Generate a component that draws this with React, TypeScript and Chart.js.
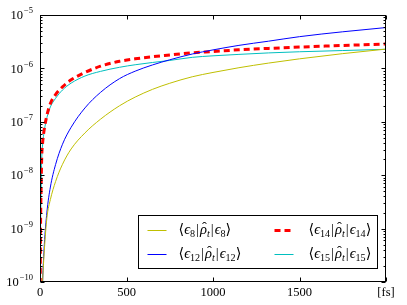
import React, { useEffect, useRef } from "react";
import { Chart, registerables } from "chart.js";

Chart.register(...registerables);

// time axis [fs]
const times = [1, 3, 6, 10, 15, 25, 40, 60, 90, 130, 180, 260, 350, 460, 550, 650, 750, 880, 1000, 1150, 1320, 1500, 1750, 2000];

// populations
const eps8 = [1e-13, 1.5e-12, 1e-11, 3.5e-11, 1e-10, 3.9e-10, 1.6e-9, 3.5e-9, 7.6e-9, 1.6e-8, 3.1e-8, 6.2e-8, 1.12e-7, 2.0e-7, 2.9e-7, 4.05e-7, 5.27e-7, 6.97e-7, 8.4e-7, 1.03e-6, 1.256e-6, 1.51e-6, 1.89e-6, 2.3e-6];
const eps12 = [1e-14, 5e-13, 4e-12, 2.5e-11, 1e-10, 5e-10, 2.04e-9, 6.0e-9, 1.58e-8, 3.8e-8, 7.9e-8, 1.82e-7, 3.56e-7, 6.44e-7, 8.87e-7, 1.16e-6, 1.45e-6, 1.86e-6, 2.22e-6, 2.7e-6, 3.23e-6, 3.93e-6, 4.85e-6, 5.82e-6];
const eps14 = [6e-11, 1e-9, 5e-9, 2.2e-8, 4e-8, 7.4e-8, 1.32e-7, 2.2e-7, 3.24e-7, 4.5e-7, 6.1e-7, 8.4e-7, 1.1e-6, 1.36e-6, 1.51e-6, 1.65e-6, 1.78e-6, 1.96e-6, 2.07e-6, 2.23e-6, 2.37e-6, 2.51e-6, 2.69e-6, 2.86e-6];
const eps15 = [5e-11, 8e-10, 4.5e-9, 2e-8, 3.7e-8, 6.9e-8, 1.2e-7, 1.9e-7, 2.75e-7, 3.94e-7, 5.3e-7, 7.2e-7, 8.8e-7, 1.05e-6, 1.17e-6, 1.29e-6, 1.41e-6, 1.61e-6, 1.72e-6, 1.83e-6, 1.95e-6, 2.05e-6, 2.16e-6, 2.28e-6];

const seriesLabels = ["⟨ϵ_{8}|ρ̂_{t}|ϵ_{8}⟩", "⟨ϵ_{12}|ρ̂_{t}|ϵ_{12}⟩", "⟨ϵ_{14}|ρ̂_{t}|ϵ_{14}⟩", "⟨ϵ_{15}|ρ̂_{t}|ϵ_{15}⟩"];
const yTickExponents = [-10, -9, -8, -7, -6, -5];
const xTicks = [0, 500, 1000, 1500, 2000];
const xUnitLabel = "[fs]";

const SERIF = "'Liberation Serif', 'DejaVu Serif', serif";

function drawMath(ctx: CanvasRenderingContext2D, text: string, x: number, y: number, size: number) {
  // tiny mathtext: _{...} subscripts; letters italic; combining hat drawn above
  const parts: { t: string; sub: boolean; hat: boolean }[] = [];
  let i = 0;
  while (i < text.length) {
    if (text[i] === "_" && text[i + 1] === "{") {
      const end = text.indexOf("}", i);
      parts.push({ t: text.slice(i + 2, end), sub: true, hat: false });
      i = end + 1;
    } else {
      const ch = text[i];
      let hat = false;
      if (i + 1 < text.length && text[i + 1] === "\u0302") {
        hat = true;
        i++;
      }
      parts.push({ t: ch, sub: false, hat });
      i++;
    }
  }
  let cx = x;
  ctx.textBaseline = "middle";
  ctx.textAlign = "left";
  for (const p of parts) {
    const isLetter = /[a-zA-Zϵρ]/.test(p.t);
    const isBar = p.t === "|";
    const fs = p.sub ? size * 0.7 : size;
    ctx.font = `${isLetter ? "italic " : ""}${fs}px ${SERIF}`;
    const dy = p.sub ? size * 0.3 : 0;
    if (isBar) cx += 1;
    ctx.fillText(p.t, cx, y + dy);
    const w = ctx.measureText(p.t).width;
    if (p.hat) {
      ctx.save();
      ctx.font = `${fs}px ${SERIF}`;
      ctx.textAlign = "center";
      ctx.fillText("ˆ", cx + w / 2 + 1, y - size * 0.12);
      ctx.restore();
      ctx.textAlign = "left";
    }
    cx += w + (isBar ? 1 : 0);
  }
  return cx - x;
}

const framePlugin = {
  id: "frameTicks",
  afterDraw(chart: any) {
    const ctx: CanvasRenderingContext2D = chart.ctx;
    const a = chart.chartArea;
    const xs = chart.scales.x;
    const ys = chart.scales.y;
    ctx.save();
    ctx.strokeStyle = "#000";
    ctx.lineWidth = 1;
    const L = Math.round(a.left) + 0.5;
    const R = Math.round(a.right) - 0.5;
    const T = Math.round(a.top) + 0.5;
    const B = Math.round(a.bottom) - 0.5;
    ctx.beginPath();
    for (const v of xTicks) {
      const px = Math.round(xs.getPixelForValue(v)) + 0.5;
      ctx.moveTo(px, B);
      ctx.lineTo(px, B - 4);
      ctx.moveTo(px, T);
      ctx.lineTo(px, T + 4);
    }
    for (let e = -10; e <= -5; e++) {
      for (let m = 1; m <= 9; m++) {
        const v = m * Math.pow(10, e);
        if (v > 1.0001e-5) break;
        const py = Math.round(ys.getPixelForValue(v)) + 0.5;
        const len = m === 1 ? 4 : 2;
        ctx.moveTo(L, py);
        ctx.lineTo(L + len, py);
        ctx.moveTo(R, py);
        ctx.lineTo(R - len, py);
      }
    }
    ctx.stroke();
    ctx.strokeRect(L, T, R - L, B - T);

    // y tick labels 10^e
    ctx.fillStyle = "#000";
    for (const e of yTickExponents) {
      const py = ys.getPixelForValue(Math.pow(10, e));
      const expStr = "\u2212" + String(-e);
      ctx.font = `8.5px ${SERIF}`;
      const we = ctx.measureText(expStr).width;
      ctx.font = `12.5px ${SERIF}`;
      const wb = ctx.measureText("10").width;
      const right = a.left - 7;
      ctx.textBaseline = "middle";
      ctx.textAlign = "left";
      ctx.fillText("10", right - we - wb - 1, py + 1);
      ctx.font = `8.5px ${SERIF}`;
      ctx.fillText(expStr, right - we, py - 4);
    }

    // legend box
    const bw = 239, bh = 53;
    const bx = Math.round(a.right - 9 - bw) + 0.5;
    const by = Math.round(a.bottom - 14 - bh) + 0.5;
    ctx.fillStyle = "#fff";
    ctx.fillRect(bx, by, bw, bh);
    ctx.strokeStyle = "#000";
    ctx.lineWidth = 1;
    ctx.strokeRect(bx, by, bw, bh);
    const ds = chart.data.datasets;
    const lineX = [9, 136];
    const textX = [40, 170];
    for (let k = 0; k < ds.length; k++) {
      const col = Math.floor(k / 2);
      const row = k % 2;
      const ly = by + 14.5 + row * 24;
      const lx = bx + lineX[col];
      ctx.save();
      ctx.strokeStyle = ds[k].borderColor;
      ctx.lineWidth = ds[k].borderWidth;
      ctx.setLineDash(ds[k].borderDash || []);
      ctx.beginPath();
      ctx.moveTo(lx, Math.round(ly) + 0.5);
      ctx.lineTo(lx + 19, Math.round(ly) + 0.5);
      ctx.stroke();
      ctx.restore();
      ctx.fillStyle = "#000";
      drawMath(ctx, ds[k].label, bx + textX[col], ly, 14.5);
    }
    ctx.restore();
  },
};

export default function App() {
  const ref = useRef<HTMLCanvasElement | null>(null);
  useEffect(() => {
    if (!ref.current) return;
    const mk = (vals: number[]) => times.map((t, i) => ({ x: t, y: vals[i] }));
    const common = { pointRadius: 0, cubicInterpolationMode: "monotone" };
    const chart = new Chart(ref.current, {
      type: "line",
      data: {
        datasets: [
          { label: seriesLabels[0], data: mk(eps8), borderColor: "#bfbf00", borderWidth: 1, ...common },
          { label: seriesLabels[1], data: mk(eps12), borderColor: "#0000ff", borderWidth: 1, ...common },
          { label: seriesLabels[2], data: mk(eps14), borderColor: "#ff0000", borderWidth: 3, borderDash: [6, 4], ...common },
          { label: seriesLabels[3], data: mk(eps15), borderColor: "#00bfbf", borderWidth: 1, ...common },
        ] as any,
      },
      options: {
        animation: false,
        responsive: true,
        maintainAspectRatio: false,
        layout: { padding: { left: 0, top: 15, right: 21, bottom: 0 } },
        plugins: { legend: { display: false }, tooltip: { enabled: false } },
        scales: {
          x: {
            type: "linear",
            min: 0,
            max: 2000,
            grid: { display: false, drawTicks: false },
            border: { display: false },
            afterBuildTicks: (s: any) => {
              s.ticks = xTicks.map((v) => ({ value: v }));
            },
            afterFit: (s: any) => {
              s.height = 23;
            },
            ticks: {
              padding: 3,
              maxRotation: 0,
              color: "#000",
              font: { family: SERIF, size: 12.5 },
              callback: (v: any) => (v === 2000 ? xUnitLabel : String(v)),
            },
          },
          y: {
            type: "logarithmic",
            min: 1e-10,
            max: 1e-5,
            grid: { display: false, drawTicks: false },
            border: { display: false },
            ticks: { display: false },
            afterFit: (s: any) => {
              s.width = 40;
            },
          },
        },
      } as any,
      plugins: [framePlugin],
    });
    return () => chart.destroy();
  }, []);
  return (
    <div style={{ position: "fixed", left: 0, top: 0, width: 407, height: 305, background: "#fff" }}>
      <canvas ref={ref} />
    </div>
  );
}
